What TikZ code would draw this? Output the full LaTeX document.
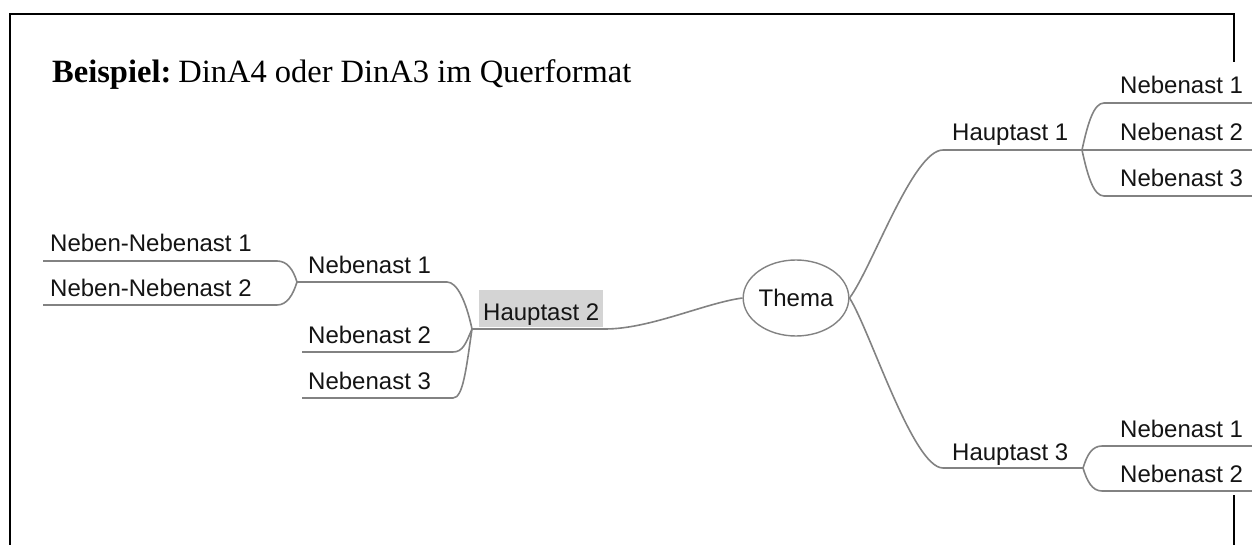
\documentclass[tikz,border=0pt]{standalone}
\usepackage{fontspec}
\setmainfont{Liberation Serif}
\newfontfamily\mmfont{Liberation Sans}
\usetikzlibrary{shapes.geometric}
\definecolor{linegray}{RGB}{130,130,130}
\definecolor{txt}{RGB}{20,20,20}
\definecolor{boxgray}{RGB}{212,212,212}
\begin{document}
\begin{tikzpicture}[x=1pt,y=-1pt,
  frame/.style={line width=2.2pt, black},
  branch/.style={line width=1.6pt, draw=linegray},
  lbl/.style={font=\mmfont\fontsize{24}{28}\selectfont, text=txt, inner sep=0pt, anchor=base west},
]
\useasboundingbox (0,0) rectangle (1252,545);
% frame
\draw[frame] (10,545) -- (10,14) -- (1234,14) -- (1234,62);
\draw[frame] (1234,495) -- (1234,545);
% title
\node[anchor=base west, inner sep=0pt, font=\fontsize{32.5}{38}\selectfont] (title) at (52,83) {\textbf{Beispiel:}\hspace{-0.12em} DinA4 oder DinA3 im Querformat};

% central topic
\node[ellipse, draw=linegray, line width=1.4pt, minimum width=102pt, minimum height=76pt, inner sep=0pt, font=\mmfont\fontsize{24}{28}\selectfont, text=txt] (thema) at (796,298) {Thema};

% Hauptast 2 (left)
\node[lbl, fill=boxgray, inner xsep=4pt, text height=30pt, text depth=7pt] (h2) at (479,320) {Hauptast 2};
\node[lbl] (n21) at (308,273) {Nebenast 1};
\node[lbl] (n22) at (308,343) {Nebenast 2};
\node[lbl] (n23) at (308,389) {Nebenast 3};
\node[lbl] (nn1) at (50,252) {Neben-Nebenast 1};
\node[lbl] (nn2) at (50,296) {Neben-Nebenast 2};

\coordinate (jh2) at (472,329);
\coordinate (jn21) at (297,282);
\coordinate (e21) at (447,282);
\coordinate (s22) at (302,352);
\coordinate (e22) at (453,352);
\coordinate (s23) at (302,398);
\coordinate (e23) at (453,398);
\coordinate (snn1) at (43,261);
\coordinate (enn1) at (277,261);
\coordinate (snn2) at (43,305);
\coordinate (enn2) at (277,305);
\coordinate (eh2) at (605,329);

\draw[branch] (jh2) -- (eh2) .. controls (650,329) and (705,303) .. (thema.west);
\draw[branch] (jh2) .. controls (466,301) and (457,282) .. (e21) -- (jn21);
\draw[branch] (jh2) .. controls (466,343) and (463,352) .. (e22) -- (s22);
\draw[branch] (jh2) .. controls (466,370) and (463,398) .. (e23) -- (s23);
\draw[branch] (jn21) .. controls (293,269) and (287,261) .. (enn1) -- (snn1);
\draw[branch] (jn21) .. controls (293,295) and (287,305) .. (enn2) -- (snn2);

% Hauptast 1 (right top)
\node[lbl] (h1) at (952,141) {Hauptast 1};
\node[lbl] (n11) at (1120,94) {Nebenast 1};
\node[lbl] (n12) at (1120,141) {Nebenast 2};
\node[lbl] (n13) at (1120,187) {Nebenast 3};
\coordinate (sh1) at (943,150);
\coordinate (jh1) at (1082,150);
\coordinate (s11) at (1104,103);
\coordinate (e11) at (1252,103);
\coordinate (e12) at (1252,150);
\coordinate (s13) at (1104,196);
\coordinate (e13) at (1252,196);

\draw[branch] (thema.east) .. controls (872,268) and (913,150) .. (sh1) -- (jh1);
\draw[branch] (jh1) .. controls (1088,122) and (1094,103) .. (s11) -- (e11);
\draw[branch] (jh1) -- (e12);
\draw[branch] (jh1) .. controls (1088,178) and (1094,196) .. (s13) -- (e13);

% Hauptast 3 (right bottom)
\node[lbl] (h3) at (952,460) {Hauptast 3};
\node[lbl] (n31) at (1120,437) {Nebenast 1};
\node[lbl] (n32) at (1120,482) {Nebenast 2};
\coordinate (sh3) at (943,468);
\coordinate (jh3) at (1083,468);
\coordinate (s31) at (1102,446);
\coordinate (e31) at (1252,446);
\coordinate (s32) at (1102,491);
\coordinate (e32) at (1252,491);

\draw[branch] (thema.east) .. controls (870,330) and (913,468) .. (sh3) -- (jh3);
\draw[branch] (jh3) .. controls (1087,455) and (1092,446) .. (s31) -- (e31);
\draw[branch] (jh3) .. controls (1087,481) and (1092,491) .. (s32) -- (e32);
\end{tikzpicture}
\end{document}
